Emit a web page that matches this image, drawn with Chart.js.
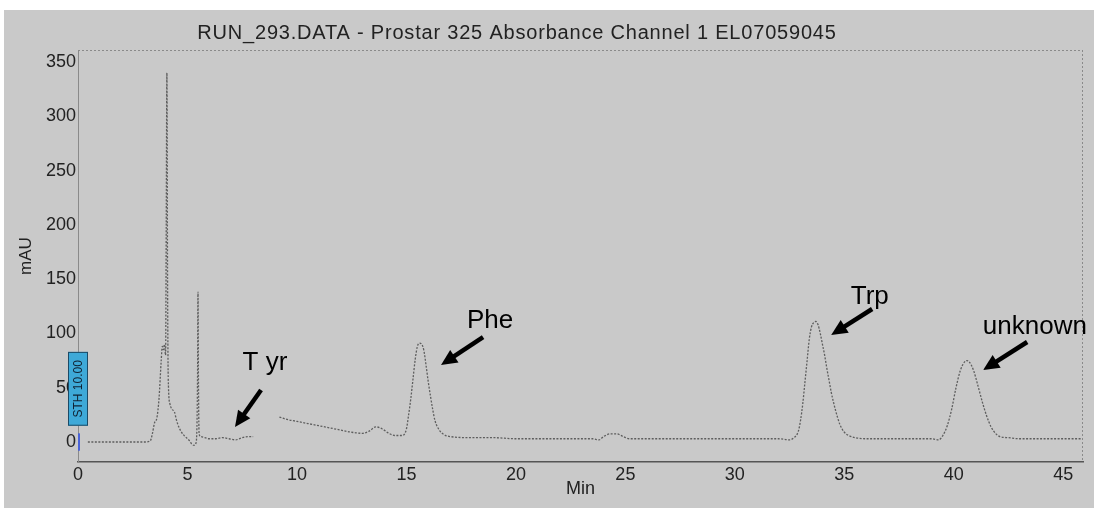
<!DOCTYPE html>
<html>
<head>
<meta charset="utf-8">
<title>RUN_293 chromatogram</title>
<script src="https://cdn.jsdelivr.net/npm/chart.js@4.4.1/dist/chart.umd.min.js"></script>
<style>
  body { margin: 0; background: #fff; }
  #wrap { position: absolute; left: 4px; top: 10px; width: 1090px; height: 498px; background: #c9c9c9; }
</style>
</head>
<body>
<div id="wrap"><canvas id="chromChart" width="1090" height="498"></canvas></div>
<script>
// retention time (min)
const timeMin = [
  0.45, 1.0, 2.0, 3.0, 3.3, 3.4, 3.5, 3.6, 3.7, 3.8, 3.85, 3.9, 3.95, 4.0, 4.03, 4.06, 4.09, 4.12,
  4.2, 4.3, 4.4, 4.5, 4.6, 4.7, 4.8, 4.9, 5.0, 5.1, 5.2, 5.3, 5.4, 5.46, 5.48, 5.5, 5.53, 5.6,
  5.8, 6.0, 6.3, 6.6, 6.9, 7.2, 7.5, 7.8, 8.0, 8.6, 9.2, 9.5, 10.0, 10.5, 11.0, 11.5, 12.0, 12.5,
  13.0, 13.3, 13.6, 13.9, 14.2, 14.5, 14.8, 15.0, 15.1, 15.2, 15.3, 15.4, 15.5, 15.6, 15.7, 15.8,
  15.9, 16.0, 16.1, 16.2, 16.3, 16.5, 16.7, 17.0, 18.0, 19.0, 20.0, 22.0, 23.5, 23.8, 24.0, 24.3,
  24.6, 24.9, 25.2, 26.0, 28.0, 30.0, 32.0, 32.5, 32.7, 32.9, 33.0, 33.1, 33.2, 33.3, 33.4, 33.5,
  33.6, 33.7, 33.8, 33.9, 34.0, 34.1, 34.2, 34.3, 34.4, 34.5, 34.6, 34.7, 34.8, 35.0, 35.2, 35.5,
  36.0, 37.0, 38.0, 39.0, 39.3, 39.5, 39.7, 39.9, 40.1, 40.3, 40.5, 40.6, 40.7, 40.9, 41.1, 41.3,
  41.5, 41.7, 41.9, 42.1, 42.5, 43.0, 44.0, 45.0, 45.9
];
// absorbance (mAU), null = no trace
const absorbance = [
  0, 0, 0, 0, 1, 8, 18, 22, 40, 75, 88, 85, 90, 80, 200, 340, 150, 60,
  35, 30, 28, 20, 14, 10, 7, 5, 3, 1, -2, -3, 0, 60, 138, 60, 8, 5,
  4, 3, 3, 4, 3, 2, 4, 5, 5, null, 23, 21, 19, 17, 15, 13, 11, 9,
  8, 10, 14, 12, 8, 6, 6, 12, 25, 40, 58, 76, 88, 91, 90, 84,
  70, 55, 42, 30, 20, 11, 7, 5, 4, 4, 3, 3, 3, 2, 5, 7.5,
  7.5, 5, 3, 3, 3, 3, 3, 2, 4, 10, 20, 35, 55, 75, 95, 106,
  110, 111, 108, 100, 90, 80, 68, 57, 46, 37, 29, 22, 16, 9, 6, 4,
  3, 3, 3, 3, 2, 6, 15, 30, 50, 66, 74, 75, 74, 66, 52, 37,
  24, 14, 8, 5, 4, 3, 3, 3, 3
];
const xTicks = [0, 5, 10, 15, 20, 25, 30, 35, 40, 45];
const yTicks = [0, 50, 100, 150, 200, 250, 300, 350];

// peak labels: text position and arrow tail -> tip, in data units
const peakNames = ["T yr", "Phe", "Trp", "unknown"];
const labelAt = [[8.54, 72.8], [18.82, 111.4], [36.16, 133.6], [43.7, 105.9]];
const arrowFrom = [[8.36, 47.9], [18.5, 96.7], [36.27, 122.5], [43.35, 92.1]];
const arrowTo = [[7.17, 13.8], [16.58, 70.9], [34.4, 98.6], [41.34, 66.3]];

const titleText = "RUN_293.DATA - Prostar 325 Absorbance Channel 1 EL07059045";

function drawArrow(ctx, x1, y1, x2, y2) {
    const ang = Math.atan2(y2 - y1, x2 - x1);
    const head = 16;
    ctx.strokeStyle = "#000";
    ctx.lineWidth = 4.5;
    ctx.beginPath();
    ctx.moveTo(x1, y1);
    ctx.lineTo(x2 - head * 0.8 * Math.cos(ang), y2 - head * 0.8 * Math.sin(ang));
    ctx.stroke();
    ctx.fillStyle = "#000";
    ctx.beginPath();
    ctx.moveTo(x2, y2);
    ctx.lineTo(x2 - head * Math.cos(ang) + 7.5 * Math.sin(ang), y2 - head * Math.sin(ang) - 7.5 * Math.cos(ang));
    ctx.lineTo(x2 - head * Math.cos(ang) - 7.5 * Math.sin(ang), y2 - head * Math.sin(ang) + 7.5 * Math.cos(ang));
    ctx.closePath();
    ctx.fill();
}

const extrasPlugin = {
    id: "extras",
    afterDraw(chart) {
        const ctx = chart.ctx;
        const area = chart.chartArea;
        const xs = chart.scales.x;
        const ys = chart.scales.y;
        ctx.save();

        // title
        ctx.fillStyle = "#222";
        ctx.font = "20px 'Liberation Sans', Arial, sans-serif";
        ctx.letterSpacing = "0.8px";
        ctx.textAlign = "center";
        ctx.textBaseline = "middle";
        ctx.fillText(titleText, 513, 23);
        ctx.letterSpacing = "0px";

        // dotted frame top and right
        ctx.strokeStyle = "#8a8a8a";
        ctx.lineWidth = 1;
        ctx.setLineDash([2, 2]);
        ctx.beginPath();
        ctx.moveTo(area.left, area.top + 0.5);
        ctx.lineTo(area.right, area.top + 0.5);
        ctx.moveTo(area.right - 0.5, area.top);
        ctx.lineTo(area.right - 0.5, area.bottom);
        ctx.stroke();
        ctx.setLineDash([]);

        // peak labels and arrows
        ctx.font = "26px 'Liberation Sans', Arial, sans-serif";
        ctx.fillStyle = "#000";
        for (let i = 0; i < peakNames.length; i++) {
            ctx.fillText(peakNames[i], xs.getPixelForValue(labelAt[i][0]), ys.getPixelForValue(labelAt[i][1]));
            drawArrow(ctx,
                xs.getPixelForValue(arrowFrom[i][0]), ys.getPixelForValue(arrowFrom[i][1]),
                xs.getPixelForValue(arrowTo[i][0]), ys.getPixelForValue(arrowTo[i][1]));
        }

        // blue STH box over the y axis
        const bx = area.left - 10, by = ys.getPixelForValue(83), bh = ys.getPixelForValue(15) - by;
        ctx.fillStyle = "#3ea9d8";
        ctx.fillRect(bx, by, 20, bh);
        ctx.strokeStyle = "#1b4a66";
        ctx.lineWidth = 1;
        ctx.strokeRect(bx + 0.5, by + 0.5, 19, bh - 1);
        ctx.translate(bx + 10, by + bh / 2);
        ctx.rotate(-Math.PI / 2);
        ctx.fillStyle = "#102030";
        ctx.font = "12px 'Liberation Sans', Arial, sans-serif";
        ctx.fillText("STH 10.00", 0, 1);
        ctx.setTransform(1, 0, 0, 1, 0, 0);

        // small blue marker at zero
        ctx.fillStyle = "#4a63d8";
        ctx.fillRect(area.left, ys.getPixelForValue(8), 2, ys.getPixelForValue(-8) - ys.getPixelForValue(8));
        ctx.restore();
    }
};

const ctx = document.getElementById("chromChart").getContext("2d");
const chromChart = new Chart(ctx, {
    type: "line",
    data: {
        datasets: [{
            data: timeMin.map((t, i) => ({ x: t, y: absorbance[i] })),
            borderColor: "#5e5e5e",
            borderWidth: 1.3,
            borderDash: [2, 1.5],
            pointRadius: 0,
            cubicInterpolationMode: "monotone",
            spanGaps: false
        }]
    },
    options: {
        responsive: false,
        animation: false,
        layout: { padding: { top: 40, right: 11, left: 0, bottom: 0 } },
        plugins: { legend: { display: false }, tooltip: { enabled: false } },
        scales: {
            x: {
                type: "linear",
                min: 0,
                max: 45.9,
                afterBuildTicks: s => { s.ticks = xTicks.map(v => ({ value: v })); },
                afterFit: s => { s.height = 46; },
                grid: { display: false, drawTicks: false },
                border: { display: true, color: "#555", dash: [3, 2], width: 1.5 },
                ticks: { color: "#222", padding: 2, maxRotation: 0, autoSkip: false,
                         font: { size: 18, family: "'Liberation Sans', Arial, sans-serif" } },
                title: { display: true, text: "Min", color: "#222", padding: { top: 0, bottom: 8 },
                         font: { size: 18, family: "'Liberation Sans', Arial, sans-serif" } }
            },
            y: {
                min: -18.4,
                max: 361,
                afterBuildTicks: s => { s.ticks = yTicks.map(v => ({ value: v })); },
                afterFit: s => { s.width = 74; },
                grid: { display: false, drawTicks: false },
                border: { display: true, color: "#8a8a8a", dash: [2, 2], width: 1 },
                ticks: { color: "#222", padding: 2,
                         font: { size: 18, family: "'Liberation Sans', Arial, sans-serif" } },
                title: { display: true, text: "mAU", color: "#222", padding: { top: 12, bottom: 0 },
                         font: { size: 17, family: "'Liberation Sans', Arial, sans-serif" } }
            }
        }
    },
    plugins: [extrasPlugin]
});
</script>
</body>
</html>
